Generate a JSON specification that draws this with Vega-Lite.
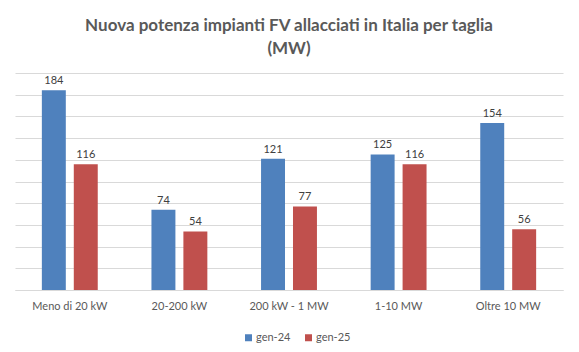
{
  "$schema": "https://vega.github.io/schema/vega-lite/v6.json",
  "autosize": {"type": "none"},
  "width": 548,
  "height": 217,
  "padding": {"left": 15, "top": 73, "right": 16, "bottom": 62},
  "background": "white",
  "title": {
    "text": ["Nuova potenza impianti FV allacciati in Italia per taglia", "(MW)"],
    "font": "Lato",
    "fontSize": 17,
    "fontWeight": "bold",
    "color": "#595959",
    "lineHeight": 23,
    "anchor": "middle",
    "offset": 15
  },
  "data": {
    "values": [
      {"taglia": "Meno di 20 kW", "periodo": "gen-24", "mw": 184},
      {"taglia": "Meno di 20 kW", "periodo": "gen-25", "mw": 116},
      {"taglia": "20-200 kW", "periodo": "gen-24", "mw": 74},
      {"taglia": "20-200 kW", "periodo": "gen-25", "mw": 54},
      {"taglia": "200 kW - 1 MW", "periodo": "gen-24", "mw": 121},
      {"taglia": "200 kW - 1 MW", "periodo": "gen-25", "mw": 77},
      {"taglia": "1-10 MW", "periodo": "gen-24", "mw": 125},
      {"taglia": "1-10 MW", "periodo": "gen-25", "mw": 116},
      {"taglia": "Oltre 10 MW", "periodo": "gen-24", "mw": 154},
      {"taglia": "Oltre 10 MW", "periodo": "gen-25", "mw": 56}
    ]
  },
  "encoding": {
    "x": {
      "field": "taglia", "type": "nominal", "sort": null, "title": null,
      "scale": {"paddingInner": 0.49, "paddingOuter": 0.245},
      "axis": {"labelAngle": 0, "labelFont": "Lato", "labelFontSize": 11, "labelColor": "#595959", "ticks": false, "domainColor": "#d9d9d9", "labelPadding": 10}
    },
    "xOffset": {"field": "periodo", "type": "nominal", "scale": {"paddingInner": 0.25}},
    "y": {
      "field": "mw", "type": "quantitative", "title": null,
      "scale": {"domain": [0, 200], "nice": false},
      "axis": {"values": [0, 20, 40, 60, 80, 100, 120, 140, 160, 180, 200], "labels": false, "ticks": false, "domain": false, "gridColor": "#d9d9d9", "gridWidth": 1}
    }
  },
  "layer": [
    {
      "mark": {"type": "bar"},
      "encoding": {
        "color": {
          "field": "periodo", "type": "nominal", "title": null,
          "scale": {"domain": ["gen-24", "gen-25"], "range": ["#4f81bd", "#c0504d"]},
          "legend": {"orient": "none", "legendX": 228, "legendY": 259, "direction": "horizontal", "symbolType": "square", "symbolSize": 49, "labelFont": "Lato", "labelFontSize": 11, "labelColor": "#595959", "columnPadding": 12, "symbolStrokeWidth": 0, "labelOffset": 2}
        }
      }
    },
    {
      "mark": {"type": "text", "dy": -9, "font": "Lato", "fontSize": 11, "color": "#404040"},
      "encoding": {"text": {"field": "mw", "type": "quantitative"}}
    }
  ],
  "config": {"view": {"stroke": null}}
}
